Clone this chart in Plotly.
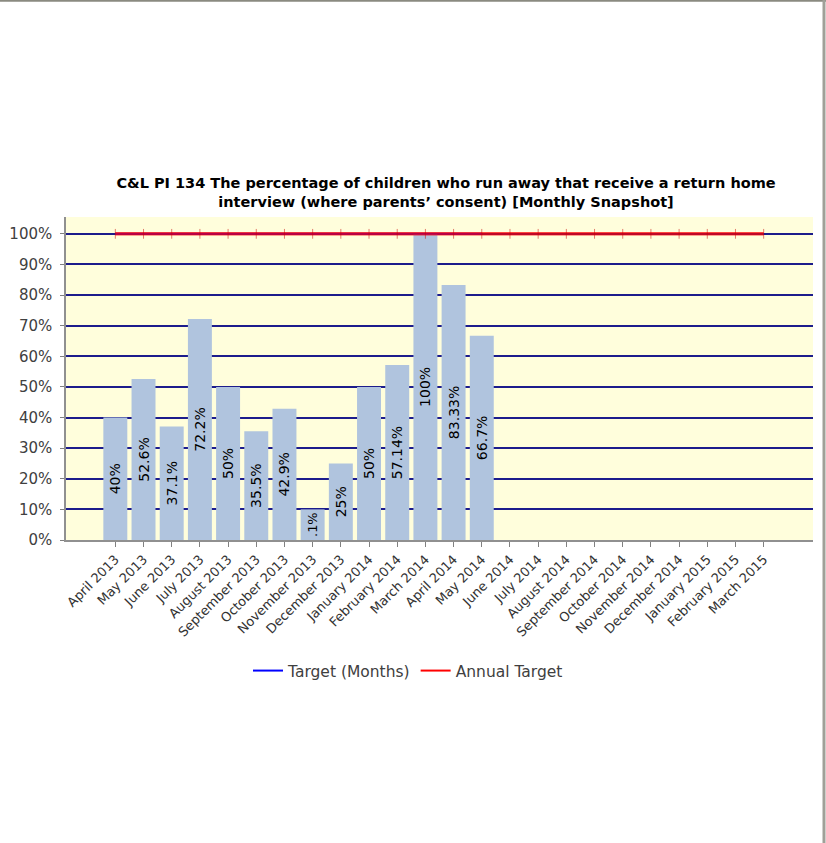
import plotly.graph_objects as go

months = ["April 2013", "May 2013", "June 2013", "July 2013", "August 2013",
          "September 2013", "October 2013", "November 2013", "December 2013",
          "January 2014", "February 2014", "March 2014", "April 2014", "May 2014",
          "June 2014", "July 2014", "August 2014", "September 2014", "October 2014",
          "November 2014", "December 2014", "January 2015", "February 2015", "March 2015"]

actual_values = [40, 52.6, 37.1, 72.2, 50, 35.5, 42.9, 10, 25, 50, 57.14, 100, 83.33, 66.7]
actual_labels = ["40%", "52.6%", "37.1%", "72.2%", "50%", "35.5%", "42.9%", ".1%", "25%",
                 "50%", "57.14%", "100%", "83.33%", "66.7%"]

target_months = [100] * 14
annual_target = [100] * 24

y_ticks = [0, 10, 20, 30, 40, 50, 60, 70, 80, 90, 100]
y_tick_labels = [f"{v}%" for v in y_ticks]

title_text = ("C&L PI 134 The percentage of children who run away that receive a return home<br>"
              "interview (where parents\u2019 consent) [Monthly Snapshot]")

FONT = "DejaVu Sans"

fig = go.Figure()

fig.add_trace(go.Bar(
    x=months[:len(actual_values)], y=actual_values,
    text=actual_labels, textposition="inside", insidetextanchor="middle",
    textangle=-90, textfont=dict(family=FONT, size=14, color="#000000"),
    marker=dict(color="#B0C4DE", line=dict(width=0)),
    width=0.85, showlegend=False, cliponaxis=False,
))

fig.add_trace(go.Scatter(
    x=months[:len(target_months)], y=target_months, mode="lines",
    name="Target (Months)", line=dict(color="#0000FF", width=2),
))

fig.add_trace(go.Scatter(
    x=months, y=annual_target, mode="lines+markers", showlegend=False,
    name="Annual Target", legendgroup="annual",
    line=dict(color="rgba(255,0,0,0.72)", width=3.5),
    marker=dict(symbol="line-ns", size=7, line=dict(width=1, color="rgba(200,0,0,0.5)")),
))

# legend entry for the annual target (thin line, as in the original legend)
fig.add_trace(go.Scatter(
    x=[months[0]], y=[None], mode="lines", name="Annual Target", legendgroup="annual",
    line=dict(color="#FF0000", width=2),
))

L, R, T, B = 66, 13, 217, 303
W, H = 826, 843
pw, ph = W - L - R, H - T - B

def px_x(p):
    return (p - L) / pw

def px_y(p):
    return (H - B - p) / ph

fig.update_layout(
    width=W, height=H,
    margin=dict(l=L, r=R, t=T, b=B, autoexpand=False),
    paper_bgcolor="white", plot_bgcolor="#FFFEDC",
    font=dict(family=FONT, color="#404040"),
    title=dict(text=title_text, xref="container", yref="container",
               x=446 / W, y=1 - 188 / H, xanchor="center", yanchor="middle",
               font=dict(family=FONT, size=14.5, color="#000000", weight="bold")),
    legend=dict(orientation="h", x=px_x(408), y=px_y(671), xanchor="center", yanchor="middle",
                font=dict(family=FONT, size=15.5, color="#404040"), itemwidth=30,
                bgcolor="rgba(0,0,0,0)", tracegroupgap=0),
    xaxis=dict(type="category", categoryorder="array", categoryarray=months,
               range=[-1.75, 24.75], tickangle=-45, ticks="outside", ticklen=5,
               tickcolor="#808080", showline=True, linecolor="#909090", linewidth=1.5,
               showgrid=False, tickfont=dict(family=FONT, size=13, color="#333333"),
               fixedrange=True),
    yaxis=dict(range=[0, 105.5], tickvals=y_ticks, ticktext=y_tick_labels,
               ticks="outside", ticklen=4, tickcolor="#808080", showline=True,
               linecolor="#909090", linewidth=1.5, showgrid=True, gridcolor="#1C1C8C",
               gridwidth=1.6, zeroline=False, ticklabelstandoff=5,
               tickfont=dict(family=FONT, size=15, color="#404040"),
               fixedrange=True),
    shapes=[
        dict(type="line", xref="paper", yref="paper", x0=px_x(0), x1=px_x(826),
             y0=px_y(0.8), y1=px_y(0.8), line=dict(color="#8A8A80", width=2), layer="above"),
        dict(type="line", xref="paper", yref="paper", x0=px_x(824), x1=px_x(824),
             y0=px_y(0), y1=px_y(843), line=dict(color="#A0A098", width=3), layer="above"),
    ],
)

fig.write_html("out.html")
